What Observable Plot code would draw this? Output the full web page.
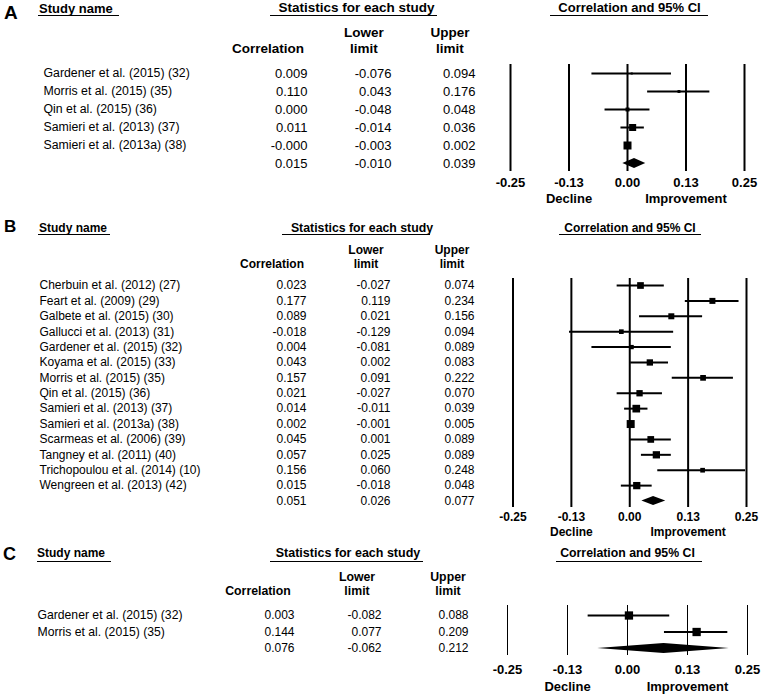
<!DOCTYPE html>
<html><head><meta charset="utf-8">
<script src="https://cdn.jsdelivr.net/npm/d3@7"></script>
<script src="https://cdn.jsdelivr.net/npm/@observablehq/plot@0.6"></script>
<style>
body{margin:0;background:#fff;}
#root{position:relative;width:762px;height:697px;overflow:hidden;font-family:"Liberation Sans",Arial,sans-serif;color:#000;}
.abs{position:absolute;white-space:pre;line-height:1;}
.hl{position:absolute;height:0;border-top:1px solid #000;}
#root svg{position:absolute;overflow:visible;background:transparent;}
</style></head><body><div id="root"></div>
<script>
// ---------- Data ----------
const tickValues = [-0.25, -0.125, 0, 0.125, 0.25];
const tickLabels = ["-0.25", "-0.13", "0.00", "0.13", "0.25"];
const sideLabels = ["Decline", "Improvement"];
const sideLabelX = [-0.125, 0.125];

// Panel A
const namesA = ["Gardener et al. (2015) (32)", "Morris et al. (2015) (35)", "Qin et al. (2015) (36)", "Samieri et al. (2013) (37)", "Samieri et al. (2013a) (38)"];
const corrA  = [0.009, 0.110, 0.000, 0.011, -0.000];
const lowerA = [-0.076, 0.043, -0.048, -0.014, -0.003];
const upperA = [0.094, 0.176, 0.048, 0.036, 0.002];
const weightA = [3, 6, 11, 35, 45];
const summaryA = [0.015, -0.010, 0.039]; // correlation, lower, upper

// Panel B
const namesB = ["Cherbuin et al. (2012) (27)", "Feart et al. (2009) (29)", "Galbete et al. (2015) (30)", "Gallucci et al. (2013) (31)", "Gardener et al. (2015) (32)", "Koyama et al. (2015) (33)", "Morris et al. (2015) (35)", "Qin et al. (2015) (36)", "Samieri et al. (2013) (37)", "Samieri et al. (2013a) (38)", "Scarmeas et al. (2006) (39)", "Tangney et al. (2011) (40)", "Trichopoulou et al. (2014) (10)", "Wengreen et al. (2013) (42)"];
const corrB  = [0.023, 0.177, 0.089, -0.018, 0.004, 0.043, 0.157, 0.021, 0.014, 0.002, 0.045, 0.057, 0.156, 0.015];
const lowerB = [-0.027, 0.119, 0.021, -0.129, -0.081, 0.002, 0.091, -0.027, -0.011, -0.001, 0.001, 0.025, 0.060, -0.018];
const upperB = [0.074, 0.234, 0.156, 0.094, 0.089, 0.083, 0.222, 0.070, 0.039, 0.005, 0.089, 0.089, 0.248, 0.048];
const weightB = [45, 36, 36, 22, 18.5, 40, 32.5, 40, 59, 64, 45, 53, 22, 53];
const summaryB = [0.051, 0.026, 0.077];

// Panel C
const namesC = ["Gardener et al. (2015) (32)", "Morris et al. (2015) (35)"];
const corrC  = [0.003, 0.144];
const lowerC = [-0.082, 0.077];
const upperC = [0.088, 0.209];
const weightC = [50, 50];
const summaryC = [0.076, -0.062, 0.212];

// ---------- Layout ----------
const FONT = '"Liberation Sans", Arial, sans-serif';
const root = document.getElementById("root");
const fmt = v => ((v < 0 || Object.is(v, -0)) ? "-" : "") + Math.abs(v).toFixed(3);

function txt(s, x, cy, size, anchor = "start", bold = true) {
  const d = document.createElement("div");
  d.className = "abs";
  d.textContent = s;
  d.style.fontSize = size + "px";
  d.style.fontWeight = bold ? "bold" : "normal";
  d.style.top = (cy - size * 0.5) + "px";
  d.style.left = x + "px";
  if (anchor === "middle") d.style.transform = "translateX(-50%)";
  root.append(d);
}
function hline(x1, x2, y) {
  const d = document.createElement("div");
  d.className = "hl";
  d.style.left = x1 + "px"; d.style.width = (x2 - x1) + "px"; d.style.top = y + "px";
  root.append(d);
}

function panel(cfg, names, corr, lower, upper, weight, summary) {
  const rows = names.map((n, i) => ({i, name: n, corr: corr[i], lower: lower[i], upper: upper[i], w: weight[i]}));
  const si = names.length;
  const h = cfg.diamondH;
  const diamond = [
    {x: summary[1], y1: si, y2: si},
    {x: summary[0], y1: si - h, y2: si + h},
    {x: summary[2], y1: si, y2: si}
  ];
  const cells = [];
  rows.forEach(d => {
    cells.push({i: d.i, col: "corr", v: d.corr});
    cells.push({i: d.i, col: "lower", v: d.lower});
    cells.push({i: d.i, col: "upper", v: d.upper});
  });
  cells.push({i: si, col: "corr", v: summary[0]});
  cells.push({i: si, col: "lower", v: summary[1]});
  cells.push({i: si, col: "upper", v: summary[2]});

  const forest = Plot.plot({
    width: 762, height: cfg.height,
    marginTop: cfg.frame[0], marginBottom: cfg.height - cfg.frame[1], marginLeft: 0, marginRight: 0,
    x: {domain: [-0.25, 0.25], range: cfg.xRange, ticks: tickValues,
        tickFormat: d => tickLabels[tickValues.indexOf(d)], tickSize: 0, tickPadding: cfg.tickPad, label: null},
    y: {domain: [0, si], range: cfg.rowsY, axis: null},
    r: {type: "sqrt", domain: [0, d3.max(weight)], range: [0, cfg.maxSide / Math.sqrt(Math.PI)]},
    style: {fontFamily: FONT, fontSize: cfg.axisSize + "px", fontWeight: "bold", background: "transparent", color: "#000"},
    marks: [
      Plot.ruleX(tickValues, {stroke: "#000", strokeWidth: cfg.vw}),
      Plot.ruleY(rows, {y: "i", x1: "lower", x2: "upper", stroke: "#000", strokeWidth: 2}),
      Plot.dot(rows, {x: "corr", y: "i", r: "w", symbol: "square", fill: "#000", stroke: null}),
      Plot.areaY(diamond, {x: "x", y1: "y1", y2: "y2", fill: "#000"}),
      Plot.text(sideLabels, {x: sideLabelX, text: d => d, frameAnchor: "bottom", dy: cfg.sideDy,
        fontSize: cfg.axisSize, fontWeight: "bold", fill: "#000"})
    ]
  });
  forest.style.left = "0px"; forest.style.top = cfg.top + "px";
  root.append(forest);

  const table = Plot.plot({
    width: 500, height: cfg.height,
    marginTop: 0, marginBottom: 0, marginLeft: cfg.nameX, marginRight: 0,
    x: {type: "point", domain: ["corr", "lower", "upper"], range: cfg.numCols, padding: 0, axis: null},
    y: {domain: [0, si], range: cfg.rowsY, axis: null},
    style: {fontFamily: FONT, fontSize: cfg.numSize + "px", background: "transparent", color: "#000"},
    marks: [
      Plot.text(rows, {y: "i", text: "name", frameAnchor: "left", textAnchor: "start", fontSize: cfg.nameSize, fill: "#000"}),
      Plot.text(cells, {x: "col", y: "i", text: d => fmt(d.v), textAnchor: "end", fontSize: cfg.numSize, fill: "#000"})
    ]
  });
  table.style.left = "0px"; table.style.top = cfg.top + "px";
  root.append(table);
}

// ---------- Panel A ----------
panel({top: 0, height: 210, rowsY: [73, 163], frame: [64, 171], xRange: [510, 744], vw: 2, axisSize: 13,
  tickPad: 6, sideDy: 31.5, nameX: 43, numCols: [307, 475], nameSize: 12.3, numSize: 13, maxSide: 8, diamondH: 0.28},
  namesA, corrA, lowerA, upperA, weightA, summaryA);
txt("A", 4, 12, 19);
txt("Study name", 39, 8, 13); hline(38, 119, 15);
txt("Statistics for each study", 356.5, 8, 13.5, "middle"); hline(270, 437, 15);
txt("Correlation and 95% CI", 629.5, 7.5, 13, "middle"); hline(550, 708, 15);
txt("Correlation", 268, 49, 13.5, "middle");
txt("Lower", 364, 33, 13.5, "middle"); txt("limit", 364, 49, 13.5, "middle");
txt("Upper", 450, 33, 13.5, "middle"); txt("limit", 450, 49, 13.5, "middle");

// ---------- Panel B ----------
panel({top: 210, height: 330, rowsY: [75, 290.5], frame: [68, 297], xRange: [512.5, 746], vw: 2, axisSize: 12,
  tickPad: 5, sideDy: 28, nameX: 39, numCols: [305, 474], nameSize: 12, numSize: 12, maxSide: 8, diamondH: 0.3},
  namesB, corrB, lowerB, upperB, weightB, summaryB);
txt("B", 4, 226, 17);
txt("Study name", 39, 228, 12); hline(38, 110, 234);
txt("Statistics for each study", 362, 228, 12.3, "middle"); hline(282, 430, 234);
txt("Correlation and 95% CI", 630, 228, 12, "middle"); hline(559, 701, 234);
txt("Correlation", 272, 264, 12, "middle");
txt("Lower", 366, 250, 12, "middle"); txt("limit", 366, 264, 12, "middle");
txt("Upper", 452, 250, 12, "middle"); txt("limit", 452, 264, 12, "middle");

// ---------- Panel C ----------
panel({top: 540, height: 157, rowsY: [75, 108], frame: [65, 115], xRange: [507, 747], vw: 1, axisSize: 13,
  tickPad: 9, sideDy: 35, nameX: 37, numCols: [293, 468], nameSize: 12.2, numSize: 12, maxSide: 8.3, diamondH: 0.3},
  namesC, corrC, lowerC, upperC, weightC, summaryC);
txt("C", 3, 554, 18);
txt("Study name", 37, 553, 12); hline(37, 111, 561);
txt("Statistics for each study", 348, 553, 12.5, "middle"); hline(270, 423, 561);
txt("Correlation and 95% CI", 627.5, 553, 12.3, "middle"); hline(556, 702, 561);
txt("Correlation", 258, 591, 12.3, "middle");
txt("Lower", 357, 577, 12.3, "middle"); txt("limit", 357, 591, 12.3, "middle");
txt("Upper", 448, 577, 12.3, "middle"); txt("limit", 448, 591, 12.3, "middle");
</script>
</body></html>
